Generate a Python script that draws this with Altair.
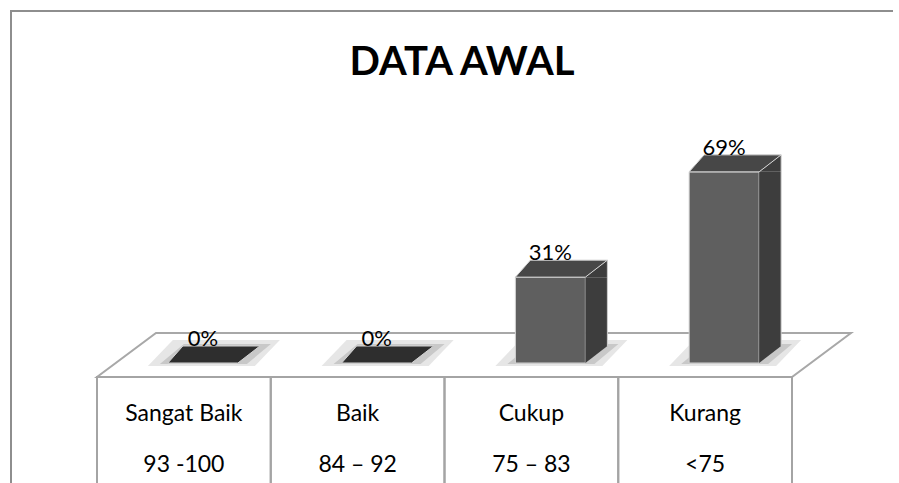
import altair as alt
import pandas as pd

# ---- data ----
categories = ["Sangat Baik", "Baik", "Cukup", "Kurang"]
ranges = ["93 -100", "84 \u2013 92", "75 \u2013 83", "<75"]
values = [0, 0, 31, 69]
title_text = "DATA AWAL"

df = pd.DataFrame({"cat": categories, "rng": ranges, "value": values})
df["zero"] = 0
df["label"] = [f"{v}%" for v in values]
one = pd.DataFrame({"k": [0]})

W, H = 893, 483
FONT = "Lato"
x_enc = alt.X("cat:N", sort=categories, axis=None,
              scale=alt.Scale(domain=categories, range=[97, 792],
                              paddingInner=0, paddingOuter=0))
y_scale = alt.Scale(domain=[0, 100], range=[363, 86])
y_enc = alt.Y("value:Q", axis=None, scale=y_scale)
y0_enc = alt.Y("zero:Q", axis=None, scale=y_scale)
y2_enc = alt.Y2("zero:Q")

base = alt.Chart(df)
nonzero = base.transform_filter("datum.value > 0")

# outer chart border (top and left edges; right/bottom are cut off)
border_top = alt.Chart(one).mark_rule(color="#8e8e8e", strokeWidth=2).encode(
    x=alt.value(10), x2=alt.value(W + 30), y=alt.value(11))
border_left = alt.Chart(one).mark_rule(color="#8e8e8e", strokeWidth=2).encode(
    x=alt.value(11), y=alt.value(10), y2=alt.value(H + 30))

# floor (3-D plane under the bars)
floor = alt.Chart(one).mark_point(
    shape="M0,0L13.9,0L15.08,-0.88L1.18,-0.88Z", size=10000, filled=True,
    fill="white", stroke="#a8a8a8", strokeWidth=2, opacity=1).encode(
    x=alt.value(97), y=alt.value(377))

# data table under the floor
cells = base.mark_rect(fill=None, stroke="#a4a4a4", strokeWidth=2).encode(
    x=x_enc, y=alt.value(377), y2=alt.value(H + 30))
cat_text = base.mark_text(font=FONT, fontSize=23, color="black", baseline="middle").encode(
    x=x_enc, y=alt.value(414), text="cat:N")
rng_text = base.mark_text(font=FONT, fontSize=23, color="black", baseline="middle").encode(
    x=x_enc, y=alt.value(465), text="rng:N")

# soft shadows on the floor
shadow_outer = base.mark_point(
    shape="M-0.72,0.06L1.42,0.06L1.92,-0.46L-0.22,-0.46Z", size=10000, filled=True,
    fill="#e6e6e6", strokeWidth=0, opacity=1).encode(x=x_enc, y=y0_enc)
shadow_inner = base.mark_point(
    shape="M-0.48,0.02L1.26,0.02L1.74,-0.38L0.0,-0.38Z", size=10000, filled=True,
    fill="#c8c8c8", strokeWidth=0, opacity=1).encode(x=x_enc, y=y0_enc)

# bar front faces
front = nonzero.mark_bar(width=70, xOffset=19, fill="#5f5f5f", stroke="#d4d4d4",
                         strokeWidth=1).encode(x=x_enc, y=y_enc, y2=y2_enc)
# side faces (rect + two triangles)
side_rect = nonzero.mark_bar(width=22, xOffset=65, y2Offset=-17, fill="#3d3d3d",
                             strokeWidth=0).encode(x=x_enc, y=y_enc, y2=y2_enc)
side_top = nonzero.mark_point(
    shape="M1.08,0L1.52,-0.34L1.52,0Z", size=10000, filled=True,
    fill="#3d3d3d", strokeWidth=0, opacity=1).encode(x=x_enc, y=y_enc)
side_bot = nonzero.mark_point(
    shape="M1.08,-0.34L1.08,0L1.52,-0.34Z", size=10000, filled=True,
    fill="#3d3d3d", strokeWidth=0, opacity=1).encode(x=x_enc, y=y0_enc)
side_edge = nonzero.mark_rule(xOffset=76, yOffset=-17, y2Offset=-17,
                              color="#cfcfcf", strokeWidth=1).encode(
    x=x_enc, y=y_enc, y2=y2_enc)
# top faces
top = base.mark_point(
    shape="M-0.32,0L1.08,0L1.52,-0.34L-0.02,-0.34Z", size=10000, filled=True,
    stroke="#d4d4d4", strokeWidth=1, opacity=1).encode(
    x=x_enc, y=y_enc,
    fill=alt.condition("datum.value == 0", alt.value("#2e2e2e"), alt.value("#474747")))

# value labels
vlabels = base.mark_text(font=FONT, fontSize=22, color="black", baseline="alphabetic",
                         xOffset=19, yOffset=-17).encode(x=x_enc, y=y_enc, text="label:N")

# title
title = alt.Chart(one).mark_text(font=FONT, fontSize=40, fontWeight="bold",
                                 color="black", baseline="alphabetic").encode(
    x=alt.value(462), y=alt.value(75), text=alt.value(title_text))

chart = alt.layer(
    border_top, border_left, floor, cells, cat_text, rng_text, shadow_outer, shadow_inner,
    front, side_rect, side_top, side_bot, side_edge, top, vlabels, title
).properties(
    width=W, height=H, padding=0,
    autosize=alt.AutoSizeParams(type="none"),
    background="white",
).configure_view(stroke=None)

chart.save("out.html", embed_options={"renderer": "svg", "actions": False})
